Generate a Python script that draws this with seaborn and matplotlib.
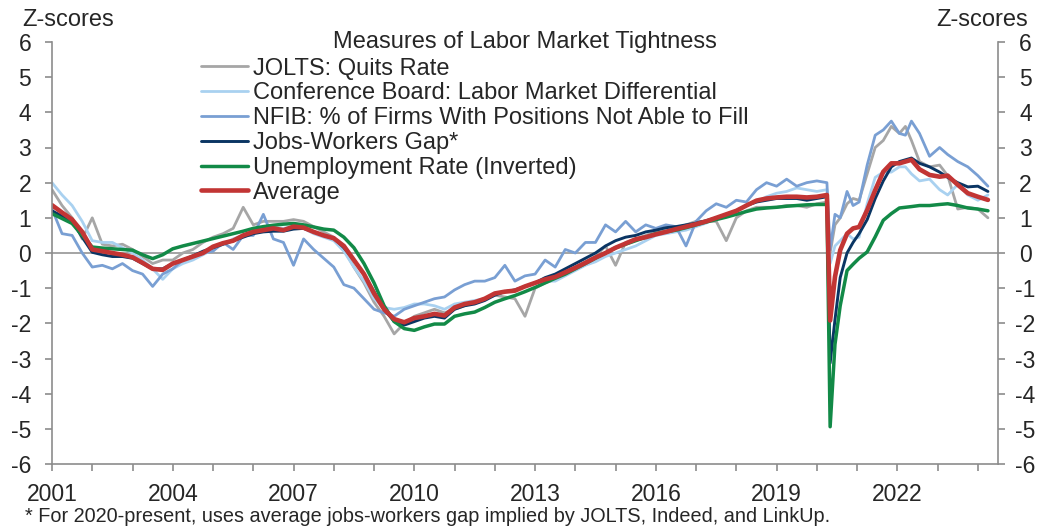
import numpy as np
import pandas as pd
import seaborn as sns
import matplotlib.pyplot as plt

sns.set_style('white')
plt.rcParams['font.family'] = ['Liberation Sans', 'DejaVu Sans']
plt.rcParams['axes.unicode_minus'] = False

# quarterly points up to 2019, then a finer grid around the 2020 drop
q_dates = [float(d) for d in np.arange(2001, 2020, 0.25)]
late_dates = [2020.0, 2020.25, 2020.33, 2020.45, 2020.58, 2020.75, 2020.9, 2021.05,
              2021.25, 2021.45, 2021.65, 2021.85, 2022.05, 2022.2, 2022.35, 2022.55,
              2022.8, 2023.05, 2023.25, 2023.5, 2023.75, 2024.0, 2024.25]
dates = q_dates + late_dates

jolts = [1.8, 1.35, 1.0, 0.4,
         1.0, 0.25, 0.2, 0.25,
         0.1, -0.1, -0.3, -0.2,
         -0.2, 0.0, 0.1, 0.3,
         0.45, 0.55, 0.7, 1.3,
         0.8, 0.9, 0.9, 0.9,
         0.95, 0.9, 0.75, 0.6,
         0.45, 0.1, -0.4, -0.85,
         -1.4, -1.8, -2.3, -2.0,
         -1.8, -1.7, -1.6, -1.7,
         -1.6, -1.5, -1.4, -1.3,
         -1.2, -1.25, -1.3, -1.8,
         -1.0, -0.85, -0.75, -0.6,
         -0.4, -0.25, -0.1, 0.2,
         -0.35, 0.3, 0.4, 0.5,
         0.6, 0.65, 0.7, 0.8,
         0.9, 0.9, 0.9, 0.35,
         1.0, 1.2, 1.3, 1.3,
         1.3, 1.35, 1.35, 1.3,
         1.4, 1.45, 0.0, 0.8, 1.0, 1.4, 1.55, 1.5, 2.25, 3.0, 3.2, 3.6,
         3.4, 3.6, 3.2, 2.6, 2.45, 2.5, 2.2, 1.25, 1.3, 1.25, 1.0]

conf_board = [2.0, 1.65, 1.35, 0.9,
              0.35, 0.3, 0.3, 0.15,
              0.0, -0.2, -0.45, -0.75,
              -0.45, -0.3, -0.2, -0.05,
              0.1, 0.25, 0.4, 0.5,
              0.6, 0.7, 0.72, 0.7,
              0.75, 0.7, 0.55, 0.45,
              0.35, 0.05, -0.4, -0.8,
              -1.3, -1.55, -1.6, -1.55,
              -1.45, -1.45, -1.5, -1.6,
              -1.45, -1.4, -1.35, -1.3,
              -1.2, -1.1, -1.05, -0.95,
              -0.85, -0.8, -0.8, -0.65,
              -0.5, -0.35, -0.25, -0.1,
              0.0, 0.1, 0.2, 0.35,
              0.5, 0.55, 0.6, 0.65,
              0.75, 0.85, 1.0, 1.1,
              1.2, 1.35, 1.45, 1.6,
              1.7, 1.75, 1.85, 1.8,
              1.75, 1.8, -0.3, 0.2, 0.35, 0.55, 0.4, 0.45, 1.4, 2.15, 2.3, 2.3,
              2.45, 2.45, 2.25, 2.05, 2.1, 1.8, 1.65, 1.95, 1.65, 1.5, 1.65]

nfib = [1.25, 0.55, 0.5, 0.0,
        -0.4, -0.35, -0.45, -0.3,
        -0.5, -0.6, -0.95, -0.6,
        -0.45, -0.2, -0.1, 0.0,
        0.05, 0.3, 0.1, 0.5,
        0.5, 1.1, 0.4, 0.3,
        -0.35, 0.4, 0.1, -0.15,
        -0.4, -0.9, -1.0, -1.3,
        -1.6, -1.7, -1.8, -1.6,
        -1.5, -1.4, -1.3, -1.25,
        -1.05, -0.9, -0.8, -0.8,
        -0.7, -0.35, -0.8, -0.65,
        -0.6, -0.2, -0.4, 0.1,
        0.0, 0.3, 0.3, 0.8,
        0.6, 0.9, 0.6, 0.8,
        0.7, 0.8, 0.75, 0.2,
        0.9, 1.2, 1.4, 1.3,
        1.5, 1.45, 1.8, 2.0,
        1.9, 2.1, 1.9, 2.0,
        2.05, 2.0, 0.1, 1.1, 1.0, 1.75, 1.35, 1.45, 2.5, 3.35, 3.5, 3.75,
        3.4, 3.35, 3.75, 3.4, 2.75, 3.0, 2.8, 2.6, 2.45, 2.2, 1.9]

jobs_gap = [1.2, 1.05, 0.9, 0.45,
            0.02, -0.05, -0.1, -0.1,
            -0.15, -0.3, -0.45, -0.45,
            -0.3, -0.2, -0.08, 0.05,
            0.15, 0.25, 0.35, 0.45,
            0.55, 0.6, 0.62, 0.62,
            0.68, 0.7, 0.6, 0.5,
            0.42, 0.15, -0.2, -0.6,
            -1.1, -1.6, -1.95, -2.05,
            -1.95, -1.85, -1.8, -1.85,
            -1.6, -1.5, -1.45, -1.35,
            -1.2, -1.1, -1.05, -0.95,
            -0.85, -0.7, -0.6, -0.45,
            -0.3, -0.15, 0.0, 0.2,
            0.35, 0.45, 0.5, 0.6,
            0.65, 0.72, 0.75, 0.8,
            0.85, 0.92, 1.0, 1.1,
            1.2, 1.35, 1.45, 1.5,
            1.55, 1.55, 1.55, 1.5,
            1.55, 1.6, -3.13, -1.9, -0.7, 0.0, 0.3, 0.55, 0.95, 1.55, 2.05, 2.45,
            2.6, 2.65, 2.7, 2.55, 2.45, 2.3, 2.15, 2.0, 1.88, 1.9, 1.75]

unemp_inv = [1.12, 0.98, 0.84, 0.5,
             0.17, 0.14, 0.12, 0.1,
             0.08, -0.05, -0.16, -0.05,
             0.12, 0.2, 0.27, 0.34,
             0.41, 0.48, 0.55, 0.62,
             0.7, 0.75, 0.79, 0.82,
             0.84, 0.8, 0.74, 0.68,
             0.65, 0.45, 0.15, -0.3,
             -0.85, -1.5, -1.95, -2.15,
             -2.2, -2.1, -2.02, -2.02,
             -1.8, -1.73, -1.68, -1.55,
             -1.4, -1.3, -1.21, -1.1,
             -0.98, -0.85, -0.72, -0.6,
             -0.45, -0.3, -0.15, 0.0,
             0.15, 0.25, 0.35, 0.45,
             0.55, 0.6, 0.65, 0.72,
             0.8, 0.88, 0.95, 1.02,
             1.1, 1.18, 1.25, 1.28,
             1.3, 1.33, 1.35, 1.37,
             1.38, 1.38, -4.94, -2.6, -1.5, -0.5, -0.32, -0.15, 0.03, 0.46, 0.93, 1.12,
             1.28, 1.3, 1.32, 1.35, 1.35, 1.38, 1.4, 1.35, 1.28, 1.25, 1.2]

average = [1.36, 1.15, 0.95, 0.6,
           0.1, 0.05, 0.0, -0.05,
           -0.12, -0.28, -0.45, -0.48,
           -0.3, -0.2, -0.1, 0.0,
           0.18, 0.28, 0.35, 0.5,
           0.6, 0.65, 0.7, 0.65,
           0.75, 0.72, 0.6, 0.5,
           0.42, 0.2, -0.2, -0.6,
           -1.15, -1.6, -1.88, -1.97,
           -1.85, -1.8, -1.73, -1.78,
           -1.55, -1.45, -1.4, -1.3,
           -1.15, -1.1, -1.07, -0.95,
           -0.85, -0.75, -0.68, -0.55,
           -0.42, -0.28, -0.13, 0.0,
           0.15, 0.27, 0.39, 0.45,
           0.53, 0.6, 0.68, 0.75,
           0.82, 0.9, 1.0, 1.1,
           1.2, 1.35, 1.49, 1.55,
           1.58, 1.6, 1.6, 1.58,
           1.6, 1.65, -1.92, -0.68, 0.08, 0.55, 0.7, 0.74, 1.22, 1.79, 2.31, 2.55,
           2.55, 2.6, 2.65, 2.38, 2.22, 2.17, 2.2, 1.94, 1.7, 1.6, 1.51]

names = ['JOLTS: Quits Rate',
         'Conference Board: Labor Market Differential',
         'NFIB: % of Firms With Positions Not Able to Fill',
         'Jobs-Workers Gap*',
         'Unemployment Rate (Inverted)',
         'Average']
colors = ['#A6A6A6', '#A9D1F0', '#799FD3', '#0A3563', '#128A47', '#C23534']
widths = [2.0, 2.0, 2.0, 2.1, 2.5, 3.3]
series = [jolts, conf_board, nfib, jobs_gap, unemp_inv, average]

grey = '#8C8C8C'
W, H = 1049, 529
fig = plt.figure(figsize=(W / 100, H / 100), dpi=100)
ax = fig.add_axes([52 / W, 1 - 464 / H, (998 - 52) / W, (464 - 42) / H])

ax.axhline(0, color=grey, lw=1.1, zorder=1)
for name, vals, col, lw in zip(names, series, colors, widths):
    sns.lineplot(x=dates, y=vals, color=col, linewidth=lw, label=name, ax=ax, zorder=2)

ax.set_xlim(2001, 2024.5)
ax.set_ylim(-6, 6)
years = list(range(2001, 2025))
ax.set_xticks(years)
ax.set_xticklabels([str(y) if (y - 2001) % 3 == 0 else '' for y in years])
ax.set_yticks(range(-6, 7))
ax.set_xlabel('')
ax.set_ylabel('')

for s in ['top', 'right']:
    ax.spines[s].set_visible(False)
for s in ['left', 'bottom']:
    ax.spines[s].set_color(grey)
    ax.spines[s].set_linewidth(1.2)
ax.tick_params(axis='x', length=5, width=1.2, color=grey, pad=9, labelsize=16.5, direction='out', bottom=True)
ax.tick_params(axis='y', length=5, width=1.2, color=grey, pad=10, labelsize=16.5, direction='out', left=True)

ax2 = ax.twinx()
ax2.set_ylim(-6, 6)
ax2.set_yticks(range(-6, 7))
for s in ['top', 'left', 'bottom']:
    ax2.spines[s].set_visible(False)
ax2.spines['right'].set_color(grey)
ax2.spines['right'].set_linewidth(1.2)
ax2.tick_params(axis='y', length=5, width=1.2, color=grey, pad=14.8, labelsize=16.5, direction='out', right=True)
for lab in ax2.get_yticklabels():
    lab.set_horizontalalignment('center')

handles, labels = ax.get_legend_handles_labels()
ax.legend(handles, labels, loc='upper left', bbox_to_anchor=(201 / W, 1 - 57.5 / H),
          bbox_transform=fig.transFigure, frameon=False, borderpad=0, borderaxespad=0,
          handlelength=2.0, handletextpad=0.2, labelspacing=0.12, fontsize=17)

fig.text(525 / W, 1 - 47.7 / H, 'Measures of Labor Market Tightness', ha='center', va='baseline', fontsize=17)
fig.text(22.7 / W, 1 - 26 / H, 'Z-scores', ha='left', va='baseline', fontsize=17)
fig.text(1028 / W, 1 - 26 / H, 'Z-scores', ha='right', va='baseline', fontsize=17)
fig.text(25 / W, 1 - 521.7 / H, '* For 2020-present, uses average jobs-workers gap implied by JOLTS, Indeed, and LinkUp.',
         ha='left', va='baseline', fontsize=14.3)

fig.savefig('out.png', dpi=100)
